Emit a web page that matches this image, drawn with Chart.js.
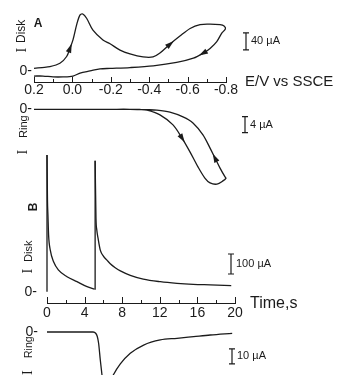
<!DOCTYPE html>
<html lang="en">
<head>
<meta charset="UTF-8" />
<title>Disk and ring currents</title>
<script src="https://cdn.jsdelivr.net/npm/chart.js"></script>
<style>
  html, body { margin: 0; padding: 0; background: #fff; overflow: hidden; }
  #wrap { position: relative; width: 337px; height: 375px; overflow: hidden; }
  canvas { position: absolute; left: 0; }
</style>
</head>
<body>
<div id="wrap">
  <canvas id="diskA" width="337" height="100" style="top:0px"></canvas>
  <canvas id="ringA" width="337" height="100" style="top:95px"></canvas>
  <canvas id="diskB" width="337" height="185" style="top:140px"></canvas>
  <canvas id="ringB" width="337" height="100" style="top:322px"></canvas>
</div>
<script>
// A: cyclic voltammogram, E in V vs SSCE, current in uA
const diskA_E = [0.2, 0.158, 0.117, 0.065, 0.03, 0.013, -0.003, -0.024, -0.04, -0.054, -0.074, -0.107, -0.159, -0.196, -0.248, -0.3,
  -0.368, -0.42, -0.456, -0.508, -0.56, -0.613, -0.665, -0.717, -0.769, -0.79, -0.797, -0.778, -0.752, -0.717, -0.682, -0.63,
  -0.543, -0.421, -0.3, -0.196, -0.144, -0.092, -0.04, -0.003, 0.049, 0.101, 0.153, 0.2];
const diskA_I = [6, 8, 10, 18, 34, 53, 73, 112, 132, 134, 124, 96, 73, 64, 49, 40,
  33, 33, 42, 63, 82, 100, 109, 110, 109, 106, 99, 89, 69, 53, 42, 30,
  20, 12, 8, 6, 5, 0, -5, -12, -14, -14, -12, -12];
const ringA_E = [0.2, 0.0, -0.2, -0.3, -0.35, -0.389, -0.456, -0.524, -0.571, -0.613, -0.654, -0.69, -0.717, -0.753, -0.784, -0.8,
  -0.795, -0.769, -0.743, -0.717, -0.68, -0.628, -0.576, -0.508, -0.44, -0.389, -0.3, -0.2, 0.0, 0.2];
const ringA_I = [0, 0, 0, 0, -0.05, -0.2, -1.4, -3.9, -7.2, -10.7, -14.4, -17.2, -18.4, -18.7, -17.9, -17.2,
  -16.9, -14.7, -12.2, -9.7, -6.4, -3.4, -1.9, -0.7, -0.2, -0.1, 0, 0, 0, 0];
const potentialLabels = [0.2, 0.0, -0.2, -0.4, -0.6, -0.8];

// B: potential steps, time in s, current in uA
const diskB_t1 = [0, 0.05, 0.1, 0.17, 0.35, 0.7, 1.23, 2.13, 3.19, 4.26, 5.06];
const diskB_I1 = [683, 458, 383, 283, 208, 150, 108, 75, 50, 25, 13];
const diskB_t2 = [5.12, 5.21, 5.3, 5.43, 5.67, 6.0, 6.38, 6.73, 7.26, 7.8, 8.86, 10.24, 12.05, 13.83, 15.56, 17.37, 19.6];
const diskB_I2 = [655, 368, 308, 268, 208, 178, 158, 140, 120, 104, 82, 63, 50, 42, 37, 34, 30];
const ringB_t = [0, 4.9, 5.2, 5.35, 5.49, 5.67, 5.85, 6.0, 6.2, 6.5, 7.05, 7.8, 8.86, 10.28, 12.05, 13.83, 15.6, 17.37, 19.7];
const ringB_I = [0, 0, -1, -3, -7.5, -18.7, -28.7, -36, -39, -36, -28.7, -21.3, -14.2, -8.7, -5.3, -4.2, -3.1, -2, -0.9];
const timeLabels = [0, 4, 8, 12, 16, 20];

const INK = '#1b1b1b';
const SANS = '"Liberation Sans", Arial, Helvetica, sans-serif';
const SERIF = '"Liberation Serif", "Times New Roman", serif';

Chart.defaults.font.family = SANS;
Chart.defaults.color = INK;
Chart.defaults.animation = false;
Chart.defaults.plugins.legend.display = false;
Chart.defaults.plugins.tooltip.enabled = false;

function pts(xs, ys) { return xs.map((x, i) => ({ x: x, y: ys[i] })); }

function trace(data, extra) {
  return Object.assign({ data: data, borderColor: INK, borderWidth: 1.3, pointRadius: 0,
    showLine: true, fill: false, clip: false, tension: 0.3 }, extra || {});
}

// y axis that only shows the "0-" mark
function zeroAxis(min, max, width, pad) {
  return {
    type: 'linear', min: min, max: max,
    afterFit: s => { s.width = width; s.paddingTop = 0; s.paddingBottom = 0; },
    afterBuildTicks: s => { s.ticks = [{ value: 0 }]; },
    ticks: { callback: () => '0-', padding: pad, font: { size: 14 } },
    grid: { display: false, drawTicks: false },
    border: { display: false }
  };
}

function isLabel(list, v) { return list.some(l => Math.abs(l - v) < 1e-6); }

// ticks inside the axis, arrows, scale bar and free text
const decor = {
  id: 'decor',
  afterDraw(chart, args, o) {
    const ctx = chart.ctx, dy = o.top || 0;
    ctx.save();
    ctx.fillStyle = INK;
    ctx.strokeStyle = INK;
    if (o.tick) {
      const s = chart.scales.x;
      ctx.lineWidth = 1;
      s.ticks.forEach(t => {
        const x = Math.round(s.getPixelForValue(t.value)) + 0.5;
        ctx.beginPath(); ctx.moveTo(x, s.top); ctx.lineTo(x, s.top - o.tick(t.value)); ctx.stroke();
      });
    }
    (o.arrows || []).forEach(a => {
      const d = chart.getDatasetMeta(a[0]).data;
      const p = d[a[1]], p0 = d[a[1] - 1], p1 = d[a[1] + 1];
      const ang = Math.atan2(p1.y - p0.y, p1.x - p0.x);
      ctx.save();
      ctx.translate(p.x, p.y); ctx.rotate(ang);
      ctx.beginPath(); ctx.moveTo(5, 0); ctx.lineTo(-4, -2.8); ctx.lineTo(-4, 2.8); ctx.closePath(); ctx.fill();
      ctx.restore();
    });
    if (o.bar) {
      const y = chart.scales.y, b = o.bar;
      const y1 = y.getPixelForValue(b.from), y2 = y.getPixelForValue(b.to);
      ctx.lineWidth = 1.2;
      ctx.beginPath();
      ctx.moveTo(b.x, y1); ctx.lineTo(b.x, y2);
      ctx.moveTo(b.x - 3, y1); ctx.lineTo(b.x + 3, y1);
      ctx.moveTo(b.x - 3, y2); ctx.lineTo(b.x + 3, y2);
      ctx.stroke();
      ctx.font = '11px ' + SANS; ctx.textBaseline = 'middle'; ctx.textAlign = 'left';
      ctx.fillText(b.text, b.x + 5, (y1 + y2) / 2);
    }
    (o.texts || []).forEach(t => {
      ctx.save();
      ctx.translate(t.x, t.y - dy);
      if (t.vertical) ctx.rotate(-Math.PI / 2);
      ctx.font = t.font;
      ctx.textAlign = t.align || 'left';
      ctx.textBaseline = t.base || 'alphabetic';
      ctx.fillText(t.s, 0, 0);
      ctx.restore();
    });
    ctx.restore();
  }
};

// A, disk
new Chart(document.getElementById('diskA'), {
  type: 'scatter',
  data: { datasets: [trace(pts(diskA_E, diskA_I))] },
  options: {
    responsive: false,
    layout: { padding: { top: 10, right: 111, bottom: 0, left: 0 } },
    scales: {
      x: {
        type: 'linear', reverse: true, min: -0.8, max: 0.2,
        afterFit: s => { s.height = 18; },
        ticks: { stepSize: 0.1, autoSkip: false, maxRotation: 0, padding: 0, font: { size: 14 },
          callback: v => isLabel(potentialLabels, v) ? v.toFixed(1) : '' },
        grid: { display: false, drawTicks: false },
        border: { display: true, color: INK, width: 1 }
      },
      y: zeroAxis(-26, 143.4, 34, 2)
    },
    plugins: {
      decor: {
        top: 0,
        tick: v => isLabel(potentialLabels, v) ? 5 : 3,
        arrows: [[0, 5], [0, 19], [0, 30]],
        bar: { x: 246, from: 49.4, to: 89.4, text: '40 \u00b5A' },
        texts: [
          { s: 'A', x: 38, y: 27, font: 'bold 12px ' + SANS, align: 'center' },
          { s: 'I', x: 26, y: 52.5, vertical: true, font: '14px ' + SERIF },
          { s: 'Disk', x: 25, y: 43, vertical: true, font: '12px ' + SANS },
          { s: 'E/V vs SSCE', x: 245, y: 81.5, font: '15px ' + SANS, base: 'middle' }
        ]
      }
    }
  },
  plugins: [decor]
});

// A, ring
new Chart(document.getElementById('ringA'), {
  type: 'scatter',
  data: { datasets: [trace(pts(ringA_E, ringA_I))] },
  options: {
    responsive: false,
    layout: { padding: { top: 10, right: 111, bottom: 9, left: 0 } },
    scales: {
      x: { type: 'linear', reverse: true, min: -0.8, max: 0.2, display: false },
      y: zeroAxis(-19.175, 1.075, 34, 2)
    },
    plugins: {
      decor: {
        top: 95,
        arrows: [[0, 8], [0, 18]],
        bar: { x: 245, from: -5.85, to: -1.85, text: '4 \u00b5A' },
        texts: [
          { s: 'I', x: 27, y: 154.5, vertical: true, font: '14px ' + SERIF },
          { s: 'Ring', x: 27, y: 138, vertical: true, font: '11px ' + SANS }
        ]
      }
    }
  },
  plugins: [decor]
});

// B, disk
const spike1 = [{ x: diskB_t1[0], y: 0 }, { x: diskB_t1[0], y: diskB_I1[0] }];
const spike2 = [{ x: diskB_t1.at(-1), y: diskB_I1.at(-1) }, { x: diskB_t2[0], y: diskB_I1.at(-1) },
  { x: diskB_t2[0], y: diskB_I2[0] }];
new Chart(document.getElementById('diskB'), {
  type: 'scatter',
  data: {
    datasets: [
      trace(spike1, { tension: 0 }),
      trace(pts(diskB_t1, diskB_I1), { cubicInterpolationMode: 'monotone' }),
      trace(spike2, { tension: 0 }),
      trace(pts(diskB_t2, diskB_I2), { cubicInterpolationMode: 'monotone' })
    ]
  },
  options: {
    responsive: false,
    layout: { padding: { top: 10, right: 102, bottom: 0, left: 0 } },
    scales: {
      x: {
        type: 'linear', min: 0, max: 20,
        afterFit: s => { s.height = 22; },
        ticks: { stepSize: 2, autoSkip: false, maxRotation: 0, padding: 2, font: { size: 14 },
          callback: v => isLabel(timeLabels, v) ? String(v) : '' },
        grid: { display: false, drawTicks: false },
        border: { display: true, color: INK, width: 1 }
      },
      y: zeroAxis(-56.5, 708.5, 47, 10)
    },
    plugins: {
      decor: {
        top: 140,
        tick: v => isLabel(timeLabels, v) ? 6 : 3,
        bar: { x: 231, from: 88.5, to: 188.5, text: '100 \u00b5A' },
        texts: [
          { s: 'B', x: 33.5, y: 207, vertical: true, font: 'bold 12px ' + SANS, align: 'center', base: 'middle' },
          { s: 'I', x: 32, y: 273.5, vertical: true, font: '14px ' + SERIF },
          { s: 'Disk', x: 32, y: 262, vertical: true, font: '11px ' + SANS },
          { s: 'Time,s', x: 250, y: 303.5, font: '16px ' + SANS, base: 'middle' }
        ]
      }
    }
  },
  plugins: [decor]
});

// B, ring
new Chart(document.getElementById('ringB'), {
  type: 'scatter',
  data: { datasets: [trace(pts(ringB_t, ringB_I), { cubicInterpolationMode: 'monotone' })] },
  options: {
    responsive: false,
    layout: { padding: { top: 5, right: 102, bottom: 5, left: 0 } },
    scales: {
      x: { type: 'linear', min: 0, max: 20, display: false },
      y: zeroAxis(-56.67, 3.33, 47, 9)
    },
    plugins: {
      decor: {
        top: 322,
        bar: { x: 232, from: -21.3, to: -11.3, text: '10 \u00b5A' },
        texts: [
          { s: 'I', x: 32, y: 375, vertical: true, font: '14px ' + SERIF },
          { s: 'Ring', x: 32, y: 358, vertical: true, font: '10.5px ' + SANS }
        ]
      }
    }
  },
  plugins: [decor]
});
</script>
</body>
</html>
